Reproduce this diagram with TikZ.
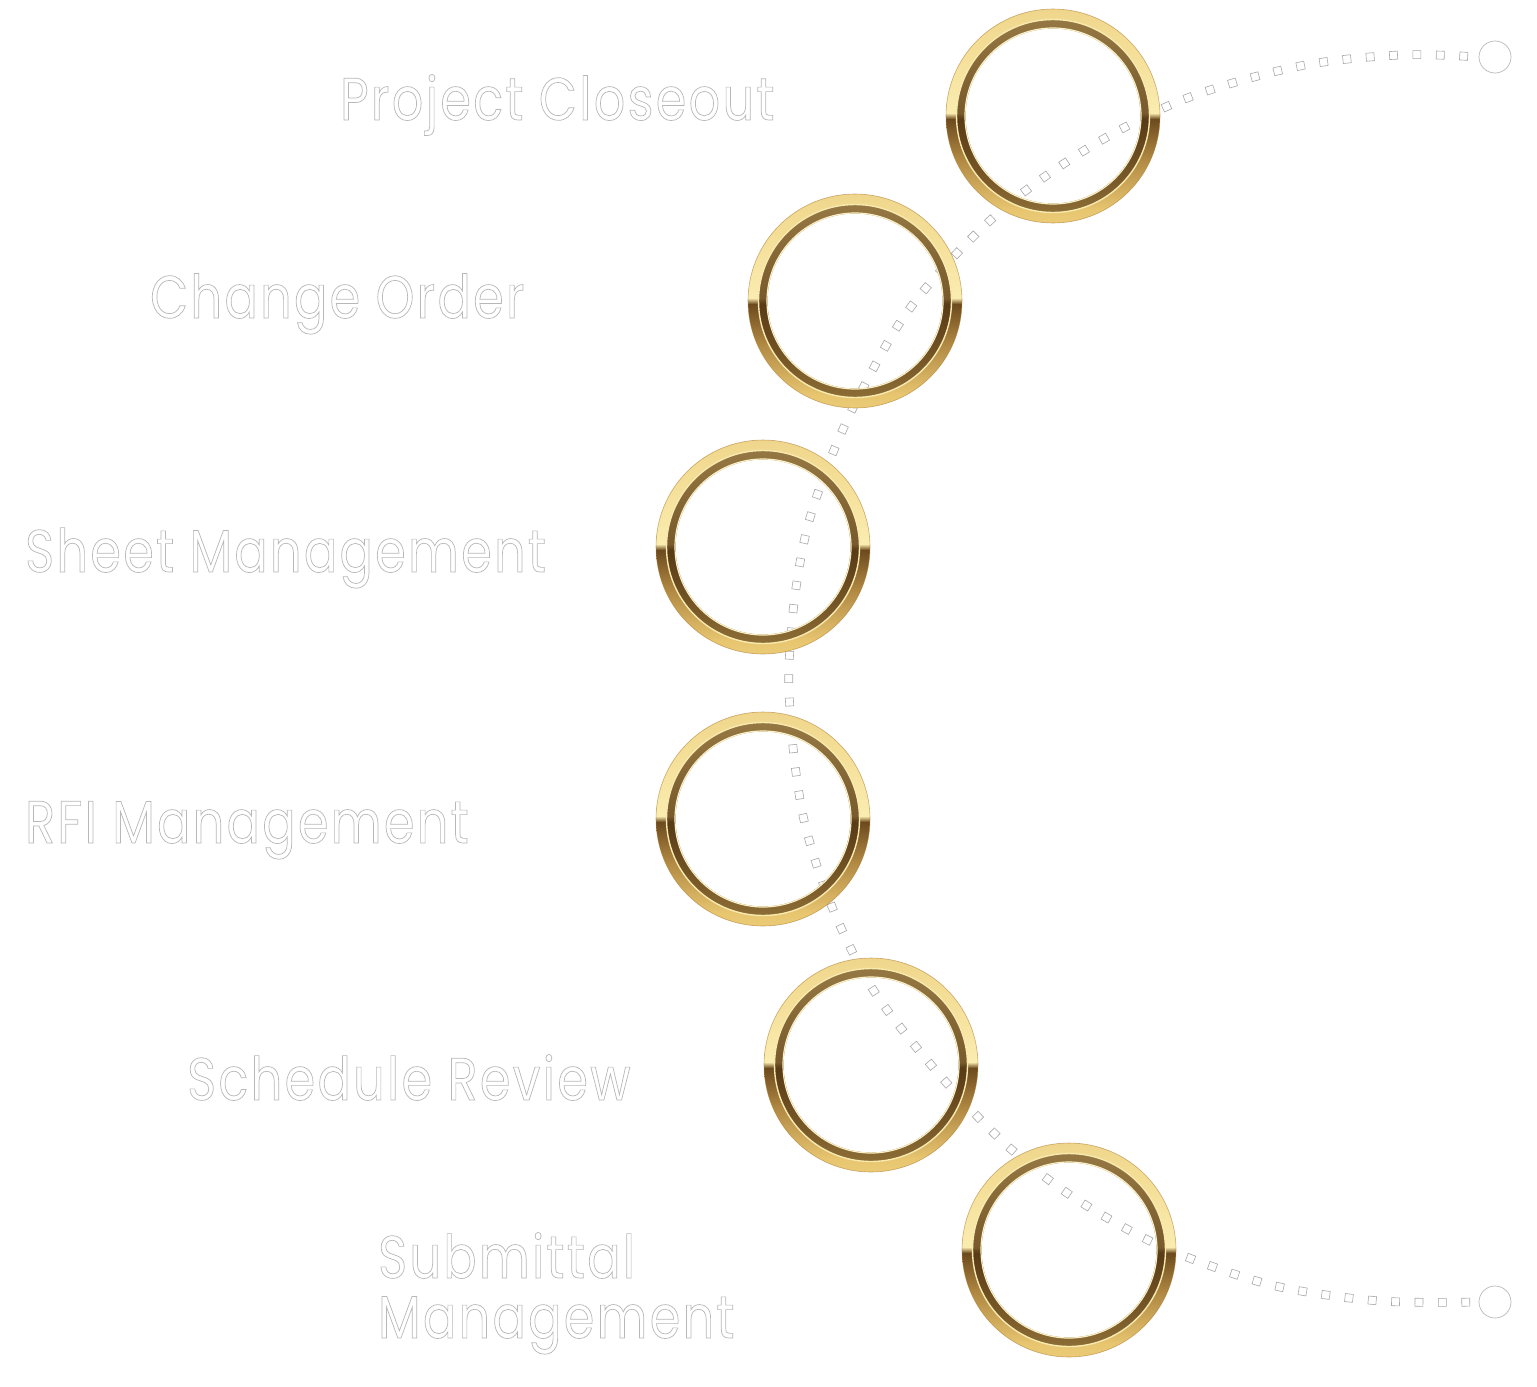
\documentclass[tikz,border=0pt]{standalone}
\usepackage{fontspec}
\setmainfont{Poppins}[FakeStretch=0.82,LetterSpace=4]
\usetikzlibrary{decorations.markings}
\definecolor{dotgray}{HTML}{A8A8A8}
\definecolor{rimgold}{HTML}{D89A3C}
\definecolor{lightline}{HTML}{F8E9AE}
\pgfdeclareverticalshading{goldouter}{100bp}{%
 color(0bp)=(rimgold); color(4bp)=({rgb,255:red,240;green,206;blue,120});
 color(12bp)=({rgb,255:red,246;green,224;blue,148}); color(28bp)=({rgb,255:red,232;green,198;blue,112});
 color(40bp)=({rgb,255:red,176;green,136;blue,66}); color(49.3bp)=({rgb,255:red,108;green,74;blue,30});
 color(50.7bp)=({rgb,255:red,250;green,236;blue,176}); color(66bp)=({rgb,255:red,244;green,222;blue,150});
 color(88bp)=({rgb,255:red,232;green,202;blue,126}); color(97bp)=({rgb,255:red,226;green,184;blue,96});
 color(100bp)=(rimgold)}
\pgfdeclareverticalshading{goldinner}{100bp}{%
 color(0bp)=({rgb,255:red,206;green,172;blue,96}); color(14bp)=({rgb,255:red,168;green,136;blue,72});
 color(32bp)=({rgb,255:red,124;green,92;blue,42}); color(49.3bp)=({rgb,255:red,88;green,58;blue,22});
 color(50.7bp)=({rgb,255:red,120;green,90;blue,44}); color(72bp)=({rgb,255:red,146;green,116;blue,64});
 color(100bp)=({rgb,255:red,170;green,142;blue,88})}
\newcommand{\outlinetext}[1]{\special{pdf:code q 1 Tr 0.7 w 0.72 0.72 0.72 RG}#1\special{pdf:code Q}}
\tikzset{
 ringnode/.style={circle,minimum size=214pt,inner sep=0pt},
 endnode/.style={circle,minimum size=32pt,inner sep=0pt,draw=dotgray!80,line width=0.7pt},
 steplabel/.style={anchor=base west,inner sep=0pt,text=white,font=\fontsize{60}{60}\selectfont},
 squaredots/.style={decoration={markings,
   mark=between positions 15pt and -12pt step 23.4pt with {\node[draw=dotgray,line width=0.6pt,minimum size=8pt,inner sep=0pt,transform shape]{};}},decorate}
}
\begin{document}
\begin{tikzpicture}[x=1pt,y=-1pt]
\useasboundingbox[fill=white] (0,0) rectangle (1537,1387);
% rings (positions)
\node[ringnode] (r1) at (1053,116) {};
\node[ringnode] (r2) at (855,301) {};
\node[ringnode] (r3) at (763,547) {};
\node[ringnode] (r4) at (763,819) {};
\node[ringnode] (r5) at (871,1065) {};
\node[ringnode] (r6) at (1069,1250) {};
% end circles
\node[endnode] (e1) at (1495,57) {};
\node[endnode] (e2) at (1495,1302) {};
% path via points
\coordinate (c1) at (1400,55);
\coordinate (c2) at (1300,66);
\coordinate (c3) at (1190,97);
\coordinate (c4) at (1100,141);
\coordinate (c5) at (1020,195);
\coordinate (c6) at (960,250);
\coordinate (c7) at (905,315);
\coordinate (c8) at (862,390);
\coordinate (c9) at (832,455);
\coordinate (c10) at (808,525);
\coordinate (c11) at (795,595);
\coordinate (c12) at (789,665);
\coordinate (c13) at (790,710);
\coordinate (c14) at (795,765);
\coordinate (c15) at (804,820);
\coordinate (c16) at (820,875);
\coordinate (c17) at (842,930);
\coordinate (c18) at (872,988);
\coordinate (c19) at (912,1042);
\coordinate (c20) at (962,1100);
\coordinate (c21) at (1012,1150);
\coordinate (c22) at (1070,1195);
\coordinate (c23) at (1140,1236);
\coordinate (c24) at (1200,1262);
\coordinate (c25) at (1280,1287);
\coordinate (c26) at (1380,1301);
\path[squaredots] plot[smooth,tension=0.55] coordinates {(e1.west) (c1) (c2) (c3) (c4) (c5) (c6) (c7) (c8) (c9) (c10) (c11) (c12) (c13) (c14) (c15) (c16) (c17) (c18) (c19) (c20) (c21) (c22) (c23) (c24) (c25) (c26) (e2.west)};
% draw rings
\foreach \r in {r1,r2,r3,r4,r5,r6}{
 \shade[shading=goldouter,even odd rule] (\r.center) circle[radius=107] (\r.center) circle[radius=96.5];
 \shade[shading=goldinner,even odd rule] (\r.center) circle[radius=96.5] (\r.center) circle[radius=87.5];
 \draw[lightline,line width=1.4pt] (\r.center) circle[radius=96.5];
 \draw[lightline!70!white,line width=1.2pt] (\r.center) circle[radius=88];
 \draw[rimgold!80!black,line width=0.6pt,opacity=0.6] (\r.center) circle[radius=107];
}
% labels
\node[steplabel] (t1) at (340,120) {\outlinetext{Project Closeout}};
\node[steplabel] (t2) at (150,318) {\outlinetext{Change Order}};
\node[steplabel] (t3) at (25,572) {\outlinetext{Sheet Management}};
\node[steplabel] (t4) at (25,843) {\outlinetext{RFI Management}};
\node[steplabel] (t5) at (187,1100) {\outlinetext{Schedule Review}};
\node[steplabel] (t6) at (378,1278) {\outlinetext{Submittal}};
\node[steplabel] (t7) at (378,1338) {\outlinetext{Management}};
\end{tikzpicture}
\end{document}
